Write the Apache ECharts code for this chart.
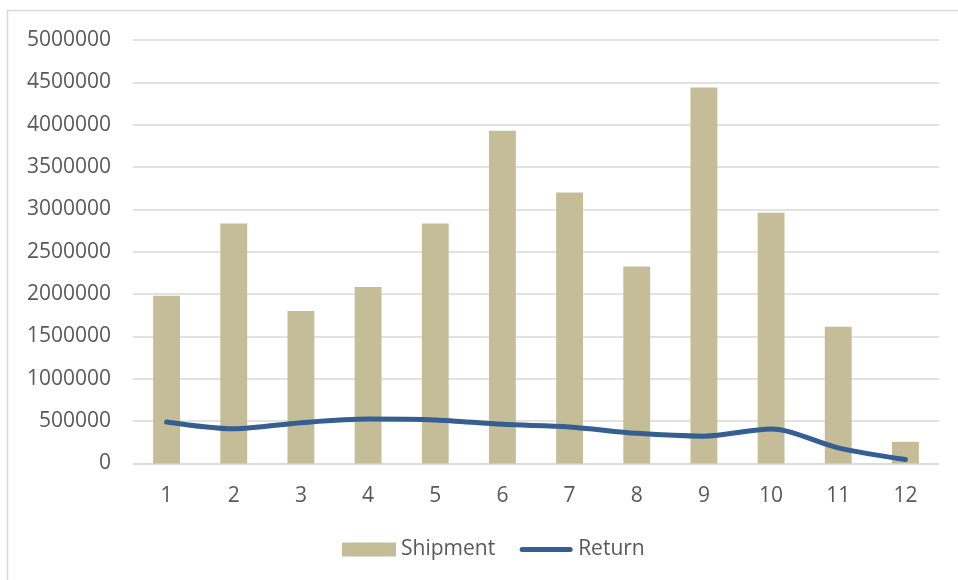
<!DOCTYPE html>
<html>
<head>
<meta charset="utf-8">
<script src="https://cdn.jsdelivr.net/npm/echarts@6/dist/echarts.min.js"></script>
<style>
html,body{margin:0;padding:0;background:#fff;}
#chart{width:958px;height:580px;}
</style>
</head>
<body>
<div id="chart"></div>
<script>
const categories = ['1','2','3','4','5','6','7','8','9','10','11','12'];
const shipment = [1980000, 2835000, 1800000, 2085000, 2835000, 3930000, 3200000, 2325000, 4440000, 2960000, 1615000, 256000];
const returns = [490000, 410000, 482000, 525000, 515000, 462000, 432000, 356000, 323000, 408000, 185000, 47000];
const yTicks = { min: 0, max: 5000000, interval: 500000 };

const font = 'Open Sans';
const textColor = '#595959';
const lineIcon = 'path://M0,0 M54,14 M3,4.5 L51,4.5 Q53.5,4.5 53.5,7 Q53.5,9.5 51,9.5 L3,9.5 Q0.5,9.5 0.5,7 Q0.5,4.5 3,4.5 Z';
const chart = echarts.init(document.getElementById('chart'), null, { renderer: 'canvas' });
chart.setOption({
  animation: false,
  backgroundColor: '#ffffff',
  textStyle: { fontFamily: font },
  graphic: [{
    type: 'rect',
    shape: { x: 7.5, y: 10.5, width: 1200, height: 1200 },
    style: { fill: 'none', stroke: '#d9d9d9', lineWidth: 1.5 },
    silent: true
  }],
  grid: { left: 133, right: 19, top: 40, bottom: 116.5, containLabel: false },
  legend: {
    bottom: 15,
    left: 337,
    itemWidth: 54,
    itemHeight: 14,
    itemGap: 24,
    textStyle: { color: textColor, fontSize: 21, fontFamily: font },
    data: [
      { name: 'Shipment', icon: 'rect' },
      { name: 'Return', icon: lineIcon, itemStyle: { color: '#355E91' } }
    ]
  },
  xAxis: {
    type: 'category',
    data: categories,
    axisLine: { show: true, lineStyle: { color: '#d9d9d9', width: 1.5 } },
    axisTick: { show: false },
    axisLabel: { color: textColor, fontSize: 21, fontFamily: font, margin: 22 },
    splitLine: { show: false }
  },
  yAxis: {
    type: 'value',
    min: yTicks.min,
    max: yTicks.max,
    interval: yTicks.interval,
    axisLine: { show: false },
    axisTick: { show: false },
    axisLabel: { color: textColor, fontSize: 21, fontFamily: font, margin: 22, formatter: v => String(v) },
    splitLine: { lineStyle: { color: '#d9d9d9', width: 1.5 } }
  },
  series: [
    {
      name: 'Shipment',
      type: 'bar',
      data: shipment,
      barCategoryGap: '60%',
      itemStyle: { color: '#C4BD97' }
    },
    {
      name: 'Return',
      type: 'line',
      data: returns,
      smooth: 0.3,
      symbol: 'none',
      lineStyle: { color: '#355E91', width: 5, cap: 'round' },
      itemStyle: { color: '#355E91' }
    }
  ]
});
</script>
</body>
</html>
